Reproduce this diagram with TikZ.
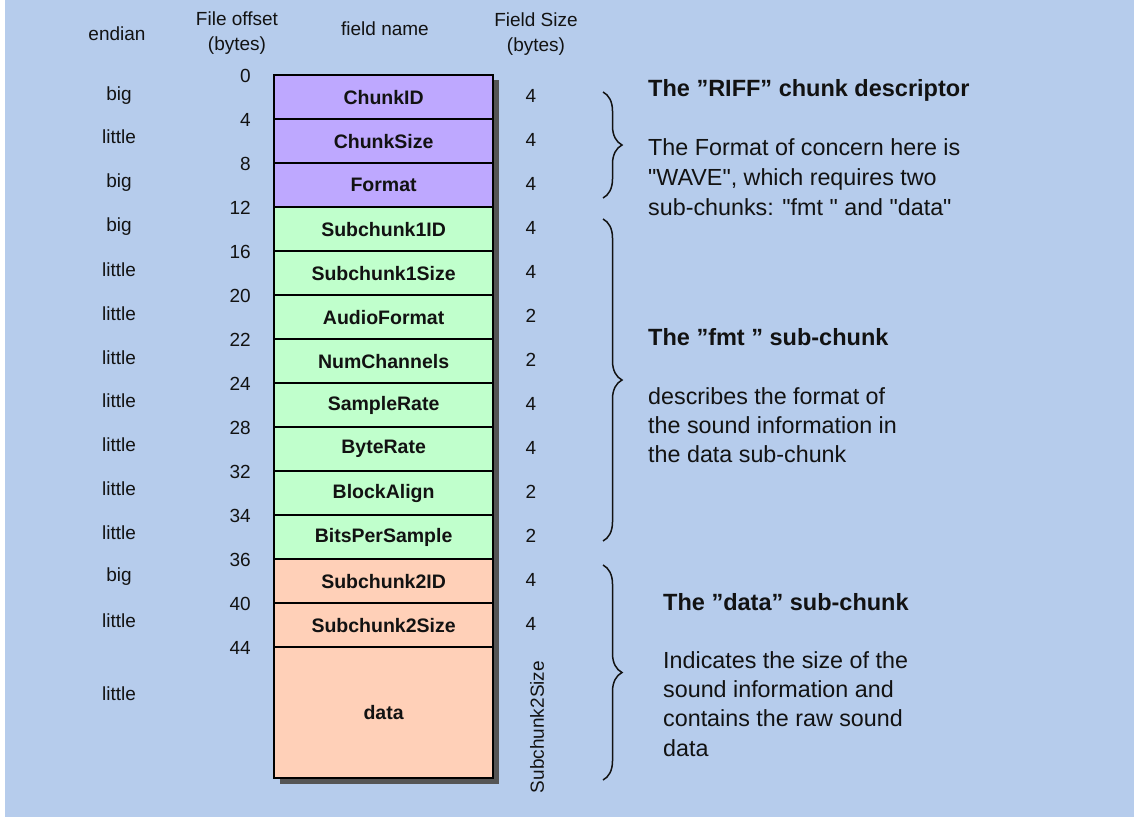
\documentclass[tikz,border=0pt]{standalone}
\usepackage{fontspec}
\setmainfont{Liberation Sans}
\usetikzlibrary{decorations.pathreplacing}
\definecolor{bg}{RGB}{182,204,236}
\definecolor{riffc}{RGB}{190,168,255}
\definecolor{fmtc}{RGB}{192,255,204}
\definecolor{datac}{RGB}{255,208,184}
\definecolor{shadowc}{RGB}{85,85,85}
\definecolor{ink}{RGB}{18,18,18}
% straight double quote, set as a glyph so the TeX quote mapping leaves it alone
\newcommand\sq{\XeTeXglyph\XeTeXglyphindex "quotedbl"\relax}
\begin{document}
\begin{tikzpicture}[x=1pt,y=-1pt,
  hdr/.style={font=\fontsize{19}{25}\selectfont, align=center, text=ink, inner sep=0},
  lbl/.style={font=\fontsize{19}{24}\selectfont, text=ink, inner sep=0},
  cell/.style={draw=black, line width=2.2pt, minimum width=219pt, minimum height=44pt,
               inner sep=0, anchor=north west, text=ink,
               font=\bfseries\fontsize{19.5}{24}\selectfont},
  tallcell/.style={cell, minimum height=131pt},
  title/.style={font=\bfseries\fontsize{23.5}{30}\selectfont, text=ink, inner sep=0, anchor=base west},
  body/.style={font=\fontsize{23.3}{30}\selectfont, text=ink, inner sep=0, anchor=base west, align=left},
  curly/.style={draw=ink, line width=1.5pt, decorate, decoration={brace, amplitude=19pt}}]

% page and background
\fill[white] (0,0) rectangle (1134,817);
\fill[bg] (5,0) rectangle (1134,817);

% column headings
\node[hdr] (hEndian) at (117,34) {endian};
\node[hdr] (hOffset) at (237,33.5) {File offset\\(bytes)};
\node[hdr] (hName) at (385,29) {field name};
\node[hdr] (hSize) at (536,34.5) {Field Size\\(bytes)};

% drop shadow behind the field stack
\fill[shadowc] (280,80) rectangle (499,784);

% RIFF chunk descriptor
\node[cell, fill=riffc] (f0) at (273,74) {ChunkID};
\node[cell, fill=riffc] (f1) at (273,118) {ChunkSize};
\node[cell, fill=riffc] (f2) at (273,162) {Format};
% fmt sub-chunk
\node[cell, fill=fmtc] (f3) at (273,206) {Subchunk1ID};
\node[cell, fill=fmtc] (f4) at (273,250) {Subchunk1Size};
\node[cell, fill=fmtc] (f5) at (273,294) {AudioFormat};
\node[cell, fill=fmtc] (f6) at (273,338) {NumChannels};
\node[cell, fill=fmtc] (f7) at (273,382) {SampleRate};
\node[cell, fill=fmtc] (f8) at (273,426) {ByteRate};
\node[cell, fill=fmtc] (f9) at (273,470) {BlockAlign};
\node[cell, fill=fmtc] (f10) at (273,514) {BitsPerSample};
% data sub-chunk
\node[cell, fill=datac] (f11) at (273,558) {Subchunk2ID};
\node[cell, fill=datac] (f12) at (273,602) {Subchunk2Size};
\node[tallcell, fill=datac] (f13) at (273,646) {data};

% byte offsets
\foreach \y/\t [count=\i] in {76/0,120/4,164/8,208/12,252/16,296/20,340/22,384/24,428/28,472/32,516/34,560/36,604/40,648/44}
  \node[lbl, anchor=east] (off\i) at (251,\y) {\t};

% byte order
\foreach \y/\t [count=\i] in {96/big,137/little,183/big,227/big,270/little,314/little,358/little,401/little,445/little,489/little,533/little,577/big,621/little,694/little}
  \node[lbl] (end\i) at (119,\y) {\t};

% field sizes
\foreach \y/\t [count=\i] in {96/4,140/4,184/4,228/4,272/4,316/2,360/2,404/4,448/4,492/2,536/2,580/4,624/4}
  \node[lbl] (size\i) at (531,\y) {\t};
\node[lbl, rotate=90] (size14) at (537,727) {Subchunk2Size};

% braces grouping the chunks
\coordinate (riffTop) at (603,92);
\coordinate (riffBot) at (603,198);
\coordinate (fmtTop) at (603,219);
\coordinate (fmtBot) at (603,541);
\coordinate (dataTop) at (603,565);
\coordinate (dataBot) at (603,780);
\draw[curly] (riffTop) -- (riffBot);
\draw[curly] (fmtTop) -- (fmtBot);
\draw[curly] (dataTop) -- (dataBot);

% descriptions (multi-line nodes sit on the baseline of their last line)
\node[title] (tRiff) at (648,96) {The ”RIFF” chunk descriptor};
\node[body] (bRiff) at (648,215) {The Format of concern here is\\\sq WAVE\sq, which requires two\\sub-chunks: \sq fmt \sq\ and \sq data\sq};
\node[title] (tFmt) at (648,345) {The ”fmt ” sub-chunk};
\node[body, font=\fontsize{23.3}{29}\selectfont] (bFmt) at (648,462) {describes the format of\\the sound information in\\the data sub-chunk};
\node[title] (tData) at (663,610) {The ”data” sub-chunk};
\node[body, font=\fontsize{23.3}{29.3}\selectfont] (bData) at (663,756) {Indicates the size of the\\sound information and\\contains the raw sound\\data};
\end{tikzpicture}
\end{document}
